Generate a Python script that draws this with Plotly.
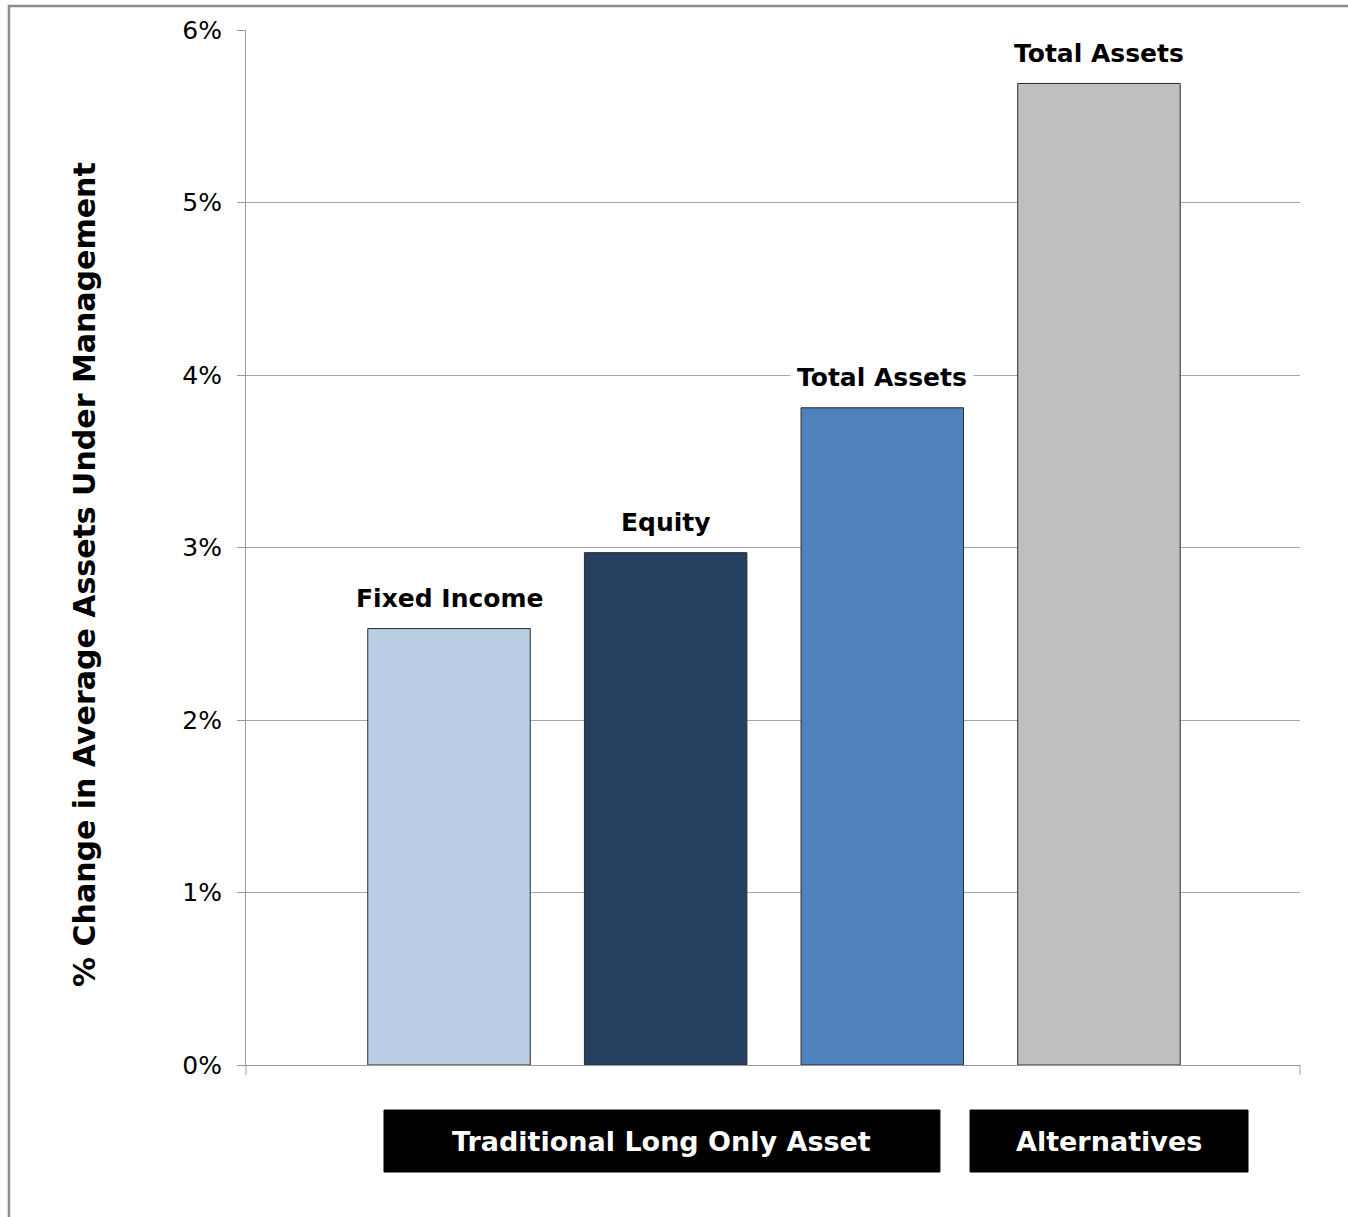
import plotly.graph_objects as go

# Growth in average AUM by asset class
categories = ["Fixed Income", "Equity", "Total Assets", "Total Assets"]
values = [2.53, 2.97, 3.81, 5.69]
bar_colors = ["#B9CDE5", "#254061", "#4F81BD", "#BFBFBF"]
groups = ["Traditional Long Only Asset", "Alternatives"]
y_ticks = [0, 1, 2, 3, 4, 5, 6]
y_tick_text = [f"{v}%" for v in y_ticks]

positions = list(range(len(values)))
FONT = "DejaVu Sans, Arial, sans-serif"

fig = go.Figure()
fig.add_trace(go.Bar(
    x=positions,
    y=values,
    width=0.75,
    marker=dict(color=bar_colors, line=dict(color="#2a2a2a", width=1)),
    hoverinfo="skip",
    showlegend=False,
))

# category labels sitting above each bar, on white so gridlines break behind them
for xpos, val, name in zip(positions, values, categories):
    fig.add_annotation(
        x=xpos, y=val, xref="x", yref="y",
        text=f"<b>{name}</b>", showarrow=False,
        yanchor="middle", yshift=30,
        font=dict(family=FONT, size=25, color="#000000"),
        bgcolor="#ffffff", borderpad=6,
    )

# group boxes beneath the axis
group_spans = [(-0.30, 2.266), (2.405, 3.688)]
for (x0, x1), label in zip(group_spans, groups):
    fig.add_shape(type="rect", xref="x", yref="paper",
                  x0=x0, x1=x1, y0=-0.1034, y1=-0.0435,
                  fillcolor="#000000", line=dict(color="#000000", width=1))
    fig.add_annotation(x=(x0 + x1) / 2, y=-0.0735, xref="x", yref="paper",
                       text=f"<b>{label}</b>", showarrow=False,
                       xanchor="center", yanchor="middle",
                       font=dict(family=FONT, size=27, color="#ffffff"))

# end ticks on the category axis
for xp in (0, 1):
    fig.add_shape(type="line", xref="paper", yref="paper",
                  x0=xp, x1=xp, y0=0, y1=-0.0097,
                  line=dict(color="#9a9a9a", width=1))

# y-axis title, placed by hand in the left margin
fig.add_annotation(
    x=-0.1527, y=0.4735, xref="paper", yref="paper",
    text="<b>% Change in Average Assets Under Management</b>",
    showarrow=False, textangle=-90,
    xanchor="center", yanchor="middle",
    font=dict(family=FONT, size=30, color="#000000"),
)

# outer chart frame
fig.add_shape(type="rect", xref="paper", yref="paper",
              x0=-0.2249, x1=1.06, y0=-0.17, y1=1.0232,
              line=dict(color="#8c8c8c", width=2.5), fillcolor="rgba(0,0,0,0)",
              layer="below")

fig.update_layout(
    width=1348, height=1217,
    margin=dict(l=246, r=48, t=30, b=152),
    paper_bgcolor="#ffffff", plot_bgcolor="#ffffff",
    font=dict(family=FONT, color="#000000"),
)
fig.update_xaxes(
    range=[-0.937, 3.928],
    showticklabels=False, showgrid=False, zeroline=False,
    showline=True, linecolor="#9a9a9a", linewidth=1,
    ticks="",
)
fig.update_yaxes(
    range=[0, 6],
    tickvals=y_ticks, ticktext=y_tick_text,
    tickfont=dict(family=FONT, size=25, color="#000000"),
    ticks="outside", ticklen=8, tickcolor="#9a9a9a",
    showgrid=True, gridcolor="#a6a6a6", gridwidth=1,
    zeroline=False, showline=True, linecolor="#9a9a9a", linewidth=1,
    ticklabelstandoff=10,
)

fig.write_html("out.html")
